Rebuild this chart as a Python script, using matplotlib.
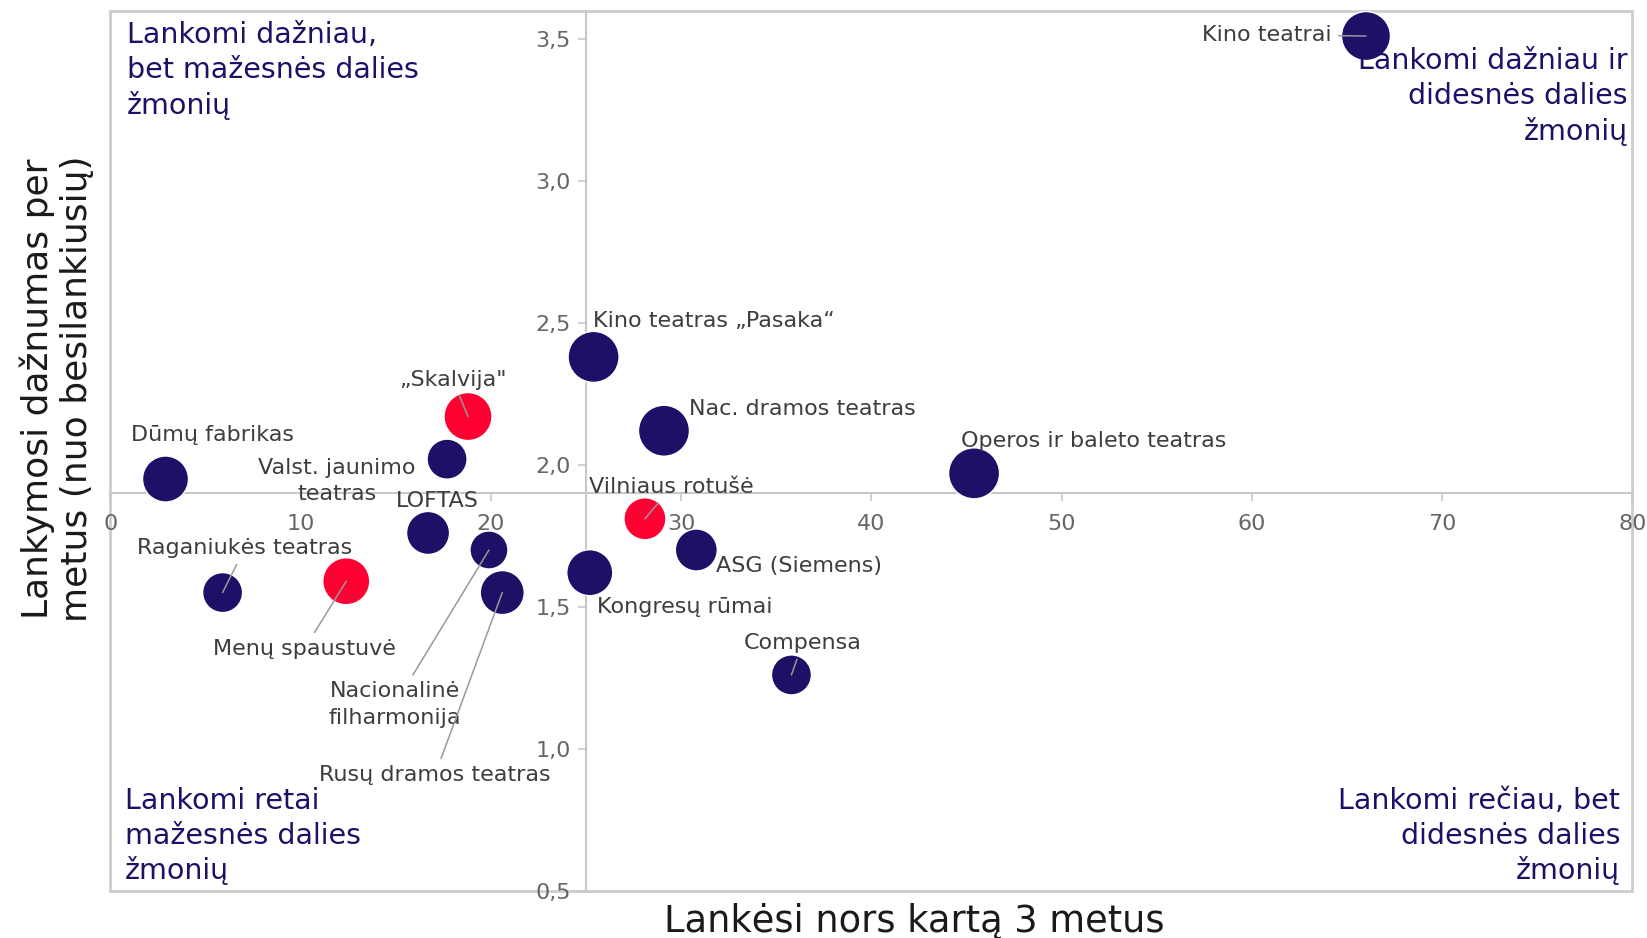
import matplotlib
matplotlib.use("Agg")
import matplotlib.pyplot as plt
from matplotlib.patches import Rectangle
from matplotlib.ticker import FuncFormatter

plt.rcParams['font.family'] = ['DejaVu Sans']

# duomenys
vietos = ['Kino teatrai', 'Kino teatras „Pasaka“', 'Nac. dramos teatras',
          'Operos ir baleto teatras', '„Skalvija"', 'Valst. jaunimo\nteatras',
          'Dūmų fabrikas', 'LOFTAS', 'Nacionalinė\nfilharmonija',
          'Rusų dramos teatras', 'Menų spaustuvė', 'Raganiukės teatras',
          'Kongresų rūmai', 'Vilniaus rotušė', 'ASG (Siemens)', 'Compensa']
lankesi = [66.0, 25.4, 29.1, 45.4, 18.8, 17.7, 2.9, 16.7, 19.9, 20.6,
           12.4, 5.9, 25.2, 28.1, 30.8, 35.8]
daznumas = [3.51, 2.38, 2.12, 1.97, 2.17, 2.02, 1.95, 1.76, 1.70, 1.55,
            1.59, 1.55, 1.62, 1.81, 1.70, 1.26]
dydis = [49, 51, 51, 51, 48, 40, 46, 43, 38, 44, 47, 40, 46, 42, 42, 40]
raudoni = ['„Skalvija"', 'Menų spaustuvė', 'Vilniaus rotušė']

# kur deti uzrasus: (x, y, ha, su linija)
uzrasai = {
    'Kino teatrai': (64.2, 3.515, 'right', True),
    'Kino teatras „Pasaka“': (25.35, 2.507, 'left', False),
    'Nac. dramos teatras': (30.4, 2.196, 'left', False),
    'Operos ir baleto teatras': (44.7, 2.085, 'left', False),
    '„Skalvija"': (18.0, 2.30, 'center', True),
    'Valst. jaunimo\nteatras': (11.9, 1.944, 'center', False),
    'Dūmų fabrikas': (1.1, 2.104, 'left', False),
    'LOFTAS': (17.2, 1.872, 'center', False),
    'Nacionalinė\nfilharmonija': (14.96, 1.156, 'center', True),
    'Rusų dramos teatras': (17.06, 0.907, 'center', True),
    'Menų spaustuvė': (10.2, 1.352, 'center', True),
    'Raganiukės teatras': (7.07, 1.707, 'center', True),
    'Kongresų rūmai': (25.57, 1.50, 'left', False),
    'Vilniaus rotušė': (25.18, 1.922, 'left', True),
    'ASG (Siemens)': (31.86, 1.644, 'left', False),
    'Compensa': (36.4, 1.374, 'center', True),
}

navy = '#1e1066'
red = '#ff0033'

fig = plt.figure(figsize=(16.47, 9.38), dpi=100)
ax = fig.add_axes([0.067, 0.0504, 0.9241, 0.9384])

spalvos = [red if v in raudoni else navy for v in vietos]
ax.scatter(lankesi, daznumas, s=[(d * 0.72) ** 2 for d in dydis],
           c=spalvos, edgecolors='white', linewidths=1, zorder=3)

for i, v in enumerate(vietos):
    tx, ty, ha, linija = uzrasai[v]
    ap = None
    if linija:
        ap = dict(arrowstyle='-', color='#999999', lw=1.1,
                  shrinkA=3, shrinkB=0)
    ax.annotate(v, xy=(lankesi[i], daznumas[i]), xytext=(tx, ty),
                ha=ha, va='center', multialignment='center',
                fontsize=16, color='#3d3d3d', arrowprops=ap,
                zorder=4, linespacing=1.4)

ax.set_xlim(0, 80)
ax.set_ylim(0.5, 3.6)
ax.set_xticks(range(0, 81, 10))
ax.set_yticks([0.5, 1.0, 1.5, 2.0, 2.5, 3.0, 3.5])
ax.yaxis.set_major_formatter(FuncFormatter(lambda v, p: f'{v:.1f}'.replace('.', ',')))

for s in ['top', 'right']:
    ax.spines[s].set_visible(False)
ax.spines['left'].set_position(('data', 25))
ax.spines['bottom'].set_position(('data', 1.9))
for s in ['left', 'bottom']:
    ax.spines[s].set_color('#c8c8c8')
    ax.spines[s].set_linewidth(1.5)
ax.add_patch(Rectangle((0, 0), 1, 1, transform=ax.transAxes, fill=False,
                       edgecolor='#cccccc', lw=2, clip_on=False, zorder=0))

ax.tick_params(axis='both', colors='#c8c8c8', labelcolor='#666666',
               labelsize=16, length=6, width=1.2)
ax.tick_params(axis='x', pad=9)
ax.tick_params(axis='y', pad=5)

# kampu uzrasai
q = dict(fontsize=20.5, color=navy, linespacing=1.3)
ax.text(0.011, 0.988, 'Lankomi dažniau,\nbet mažesnės dalies\nžmonių',
        transform=ax.transAxes, ha='left', va='top', **q)
ax.text(0.997, 0.958, 'Lankomi dažniau ir\ndidesnės dalies\nžmonių',
        transform=ax.transAxes, ha='right', va='top', multialignment='right', **q)
ax.text(0.0097, 0.006, 'Lankomi retai\nmažesnės dalies\nžmonių',
        transform=ax.transAxes, ha='left', va='bottom', **q)
ax.text(0.992, 0.006, 'Lankomi rečiau, bet\ndidesnės dalies\nžmonių',
        transform=ax.transAxes, ha='right', va='bottom', multialignment='right', **q)

fig.text(914 / 1647, 1 - 921 / 938, 'Lankėsi nors kartą 3 metus',
         ha='center', va='center', fontsize=26.5, color='#1a1a1a')
fig.text(57 / 1647, 1 - 389 / 938, 'Lankymosi dažnumas per\nmetus (nuo besilankiusių)',
         ha='center', va='center', rotation=90, multialignment='center',
         fontsize=26, color='#1a1a1a', linespacing=1.2)

fig.savefig('out.png', dpi=100)
